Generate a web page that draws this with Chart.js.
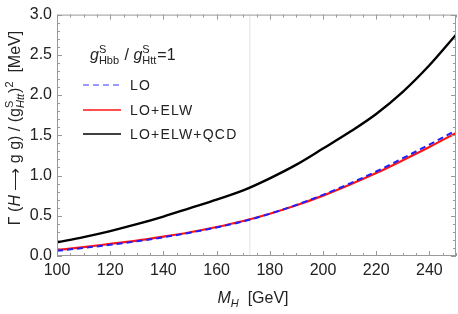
<!DOCTYPE html>
<html>
<head>
<meta charset="utf-8">
<script src="https://cdn.jsdelivr.net/npm/chart.js@4/dist/chart.umd.min.js"></script>
<style>
  html, body { margin: 0; padding: 0; background: #fff; }
  #wrap { width: 458px; height: 314px; }
</style>
</head>
<body>
<div id="wrap"><canvas id="chart"></canvas></div>
<script>
// Higgs mass values (GeV)
const masses = [100, 110, 120, 130, 140, 150, 160, 170, 180, 190, 200, 210, 220, 230, 240, 250];
// Γ(H -> g g) / (g^S_Htt)^2 in MeV
const lo = [0.065, 0.10, 0.14, 0.183, 0.233, 0.29, 0.355, 0.43, 0.525, 0.635, 0.76, 0.90, 1.05, 1.215, 1.385, 1.56];
const loElw = [0.075, 0.11, 0.15, 0.19, 0.24, 0.295, 0.36, 0.435, 0.525, 0.63, 0.75, 0.885, 1.03, 1.19, 1.355, 1.53];
const loElwQcd = [0.17, 0.235, 0.31, 0.395, 0.49, 0.595, 0.70, 0.815, 0.965, 1.135, 1.335, 1.54, 1.765, 2.04, 2.37, 2.75];
const seriesNames = ['LO', 'LO+ELW', 'LO+ELW+QCD'];
const topMass = 172.5;

const textColor = '#222';
const frameColor = '#999';
const baseFont = '"Liberation Sans", Arial, sans-serif';

const toPoints = ys => masses.map((m, i) => ({ x: m, y: ys[i] }));

// draw a row of text runs; run = {t, font, dy} or {sup, sub, font}
function runWidth(ctx, r) {
  if (r.t !== undefined) { ctx.font = r.font; return ctx.measureText(r.t).width; }
  ctx.font = r.font;
  const a = ctx.measureText(r.sup).width;
  ctx.font = r.subFont || r.font;
  const b = ctx.measureText(r.sub).width;
  return Math.max(a, b) + 1;
}
function drawRuns(ctx, runs, x, y) {
  let cx = x;
  runs.forEach(r => {
    const w = runWidth(ctx, r);
    if (r.t !== undefined) {
      ctx.font = r.font;
      ctx.fillText(r.t, cx, y + (r.dy || 0));
    } else {
      ctx.font = r.font;
      ctx.fillText(r.sup, cx, y - 7);
      ctx.font = r.subFont || r.font;
      ctx.fillText(r.sub, cx, y + 4);
    }
    cx += w;
  });
}
function totalWidth(ctx, runs) {
  return runs.reduce((s, r) => s + runWidth(ctx, r), 0);
}

const n16 = '16px ' + baseFont;
const i16 = 'italic 16px ' + baseFont;
const n11 = '11px ' + baseFont;
const i11 = 'italic 11px ' + baseFont;

const decorPlugin = {
  id: 'decor',
  beforeDatasetsDraw(chart) {
    const { ctx, chartArea: a, scales: { x } } = chart;
    const px = x.getPixelForValue(topMass);
    ctx.save();
    ctx.strokeStyle = '#e2e2e2';
    ctx.lineWidth = 1;
    ctx.beginPath();
    ctx.moveTo(px, a.top);
    ctx.lineTo(px, a.bottom);
    ctx.stroke();
    ctx.restore();
  },
  afterDraw(chart) {
    const { ctx, chartArea: a, scales: { x, y } } = chart;
    ctx.save();
    // frame
    ctx.strokeStyle = frameColor;
    ctx.lineWidth = 1;
    ctx.strokeRect(a.left + 0.5, a.top + 0.5, a.right - a.left - 1, a.bottom - a.top - 1);

    // inward ticks on all four sides
    ctx.beginPath();
    for (let v = x.min; v <= x.max + 1e-6; v += 5) {
      const px = Math.round(x.getPixelForValue(v)) + 0.5;
      const len = (Math.round(v) % 20 === 0) ? 5 : 3;
      ctx.moveTo(px, a.bottom); ctx.lineTo(px, a.bottom - len);
      ctx.moveTo(px, a.top); ctx.lineTo(px, a.top + len);
    }
    for (let i = 0; i <= 30; i++) {
      const v = i / 10;
      const py = Math.round(y.getPixelForValue(v)) + 0.5;
      const len = (i % 5 === 0) ? 5 : 3;
      ctx.moveTo(a.left, py); ctx.lineTo(a.left + len, py);
      ctx.moveTo(a.right, py); ctx.lineTo(a.right - len, py);
    }
    ctx.stroke();

    ctx.fillStyle = textColor;
    ctx.textBaseline = 'alphabetic';
    ctx.textAlign = 'left';

    // header inside the plot
    drawRuns(ctx, [
      { t: 'g', font: i16 },
      { sup: 'S', sub: 'Hbb', font: n11 },
      { t: ' / ', font: n16 },
      { t: 'g', font: i16 },
      { sup: 'S', sub: 'Htt', font: n11 },
      { t: '=1', font: n16 }
    ], 90, 60);

    // legend
    const legendY = [85, 110, 134];
    chart.data.datasets.forEach((ds, i) => {
      const ly = legendY[i];
      ctx.save();
      ctx.strokeStyle = ds.legendColor || ds.borderColor;
      ctx.lineWidth = 1.3;
      ctx.setLineDash(ds.borderDash || []);
      ctx.beginPath();
      ctx.moveTo(83, ly); ctx.lineTo(121, ly);
      ctx.stroke();
      ctx.restore();
      ctx.font = '14px ' + baseFont;
      ctx.letterSpacing = '1.2px';
      ctx.fillText(ds.label, 130, ly + 5);
      ctx.letterSpacing = '0px';
    });

    // x axis title
    const xRuns = [
      { t: 'M', font: i16 },
      { t: 'H', font: i11, dy: 4 },
      { t: '  [GeV]', font: n16 }
    ];
    const xw = totalWidth(ctx, xRuns);
    drawRuns(ctx, xRuns, 253 - xw / 2, 303);

    // y axis title (rotated)
    const yRuns = [
      { t: 'Γ (', font: n16 },
      { t: 'H', font: i16 },
      { t: ' ⟶ g g) / (g', font: n16 },
      { sup: 'S', sub: 'Htt', font: n11, subFont: i11 },
      { t: ')', font: n16 },
      { t: '2', font: n11, dy: -7 },
      { t: '  [MeV]', font: n16 }
    ];
    const yw = totalWidth(ctx, yRuns);
    ctx.translate(20, 128);
    ctx.rotate(-Math.PI / 2);
    drawRuns(ctx, yRuns, -yw / 2, 0);
    ctx.restore();
  }
};

new Chart(document.getElementById('chart'), {
  type: 'line',
  data: {
    datasets: [
      {
        label: seriesNames[0],
        data: toPoints(lo),
        borderColor: 'rgb(30,30,255)',
        legendColor: 'rgb(120,120,255)',
        borderWidth: 2,
        borderDash: [6, 4],
        order: 0
      },
      {
        label: seriesNames[1],
        data: toPoints(loElw),
        borderColor: 'rgb(255,20,20)',
        borderWidth: 2.2,
        order: 1
      },
      {
        label: seriesNames[2],
        data: toPoints(loElwQcd),
        borderColor: '#000',
        borderWidth: 2.4,
        order: 2
      }
    ]
  },
  options: {
    responsive: true,
    maintainAspectRatio: false,
    animation: false,
    devicePixelRatio: 1,
    layout: { padding: { top: 10, right: 2, left: 0, bottom: 0 } },
    elements: {
      point: { radius: 0 },
      line: { cubicInterpolationMode: 'monotone', fill: false }
    },
    plugins: {
      legend: { display: false },
      tooltip: { enabled: false }
    },
    scales: {
      x: {
        type: 'linear',
        min: 100,
        max: 250,
        grid: { display: false, drawTicks: false },
        border: { display: false },
        ticks: {
          stepSize: 20,
          includeBounds: false,
          padding: 5,
          color: textColor,
          font: { family: baseFont, size: 16 },
          maxRotation: 0
        },
        afterFit: s => { s.height = 58; }
      },
      y: {
        min: 0,
        max: 3,
        grid: { display: false, drawTicks: false },
        border: { display: false },
        ticks: {
          stepSize: 0.5,
          padding: 5,
          color: textColor,
          font: { family: baseFont, size: 16 },
          callback: v => v.toFixed(1)
        },
        afterFit: s => { s.width = 57; }
      }
    }
  },
  plugins: [decorPlugin]
});
</script>
</body>
</html>
